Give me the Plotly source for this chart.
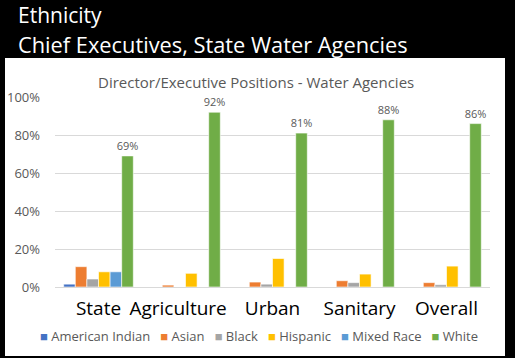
import plotly.graph_objects as go

categories = ["State", "Agriculture", "Urban", "Sanitary", "Overall"]
category_labels = ["State", "Agriculture\u00a0\u00a0\u00a0", "Urban", "Sanitary", "Overall"]
american_indian = [0.015, 0, 0, 0, 0]
asian = [0.107, 0.01, 0.026, 0.033, 0.023]
black = [0.042, 0, 0.015, 0.023, 0.012]
hispanic = [0.08, 0.072, 0.15, 0.068, 0.11]
mixed_race = [0.08, 0, 0, 0, 0]
white = [0.69, 0.92, 0.81, 0.88, 0.86]
white_labels = ["69%", "92%", "81%", "88%", "86%"]
y_ticks = [0, 0.2, 0.4, 0.6, 0.8, 1.0]
y_tick_labels = ["0%", "20%", "40%", "60%", "80%", "100%"]

series = [
    ("American Indian", american_indian, "#4472C4"),
    ("Asian", asian, "#ED7D31"),
    ("Black", black, "#A5A5A5"),
    ("Hispanic", hispanic, "#FFC000"),
    ("Mixed Race", mixed_race, "#5B9BD5"),
    ("White", white, "#70AD47"),
]

W, H = 515, 358
L, R, T, B = 55, 25, 97, 71
pw, ph = W - L - R, H - T - B

def px(x):
    return (x - L) / pw

def py(y):
    return (H - B - y) / ph

fig = go.Figure()
for name, vals, color in series:
    kw = {}
    if name == "White":
        kw = dict(text=white_labels, textposition="outside", constraintext="none",
                  textfont=dict(size=11, color="#595959", family="Open Sans"),
                  cliponaxis=False)
    fig.add_trace(go.Bar(name=name, x=categories, y=vals, marker_color=color,
                         marker_line=dict(color="white", width=0.6),
                         showlegend=False, **kw))

nb = "\u00a0"
legend_text = (nb * 3).join(
    f"<span style='color:{c}'>■</span>{nb}{n}" for n, _, c in series
)

fig.update_layout(
    width=W, height=H,
    margin=dict(l=L, r=R, t=T, b=B, pad=0),
    paper_bgcolor="black", plot_bgcolor="white",
    barmode="group", bargap=0.2, bargroupgap=0,
    font=dict(family="Open Sans", color="#595959"),
    showlegend=False,
    shapes=[dict(type="rect", xref="paper", yref="paper", layer="below",
                 x0=px(5), x1=px(505), y0=py(356), y1=py(58),
                 fillcolor="white", line=dict(width=0))],
    annotations=[
        dict(text="Ethnicity", xref="paper", yref="paper", x=px(16), y=py(15),
             xanchor="left", yanchor="middle", showarrow=False,
             font=dict(size=21, color="white", family="Open Sans")),
        dict(text="Chief Executives, State Water Agencies", xref="paper", yref="paper",
             x=px(16), y=py(44), xanchor="left", yanchor="middle", showarrow=False,
             font=dict(size=21.8, color="white", family="Open Sans")),
        dict(text="Director/Executive Positions - Water Agencies", xref="paper", yref="paper",
             x=px(256), y=py(82), xanchor="center", yanchor="middle", showarrow=False,
             font=dict(size=15, color="#595959", family="Open Sans")),
        dict(text=legend_text, xref="paper", yref="paper", x=px(259), y=py(336),
             xanchor="center", yanchor="middle", showarrow=False,
             font=dict(size=13, color="#595959", family="Open Sans")),
    ],
)
fig.update_yaxes(range=[0, 1.0], tickvals=y_ticks, ticktext=y_tick_labels,
                 showgrid=True, gridcolor="#D9D9D9", gridwidth=1, zeroline=False,
                 showline=False, tickfont=dict(size=13, color="#595959"),
                 ticklabelstandoff=14, automargin=False)
fig.update_xaxes(tickvals=categories, ticktext=category_labels,
                 showgrid=False, showline=True, linecolor="#D9D9D9", linewidth=1,
                 tickfont=dict(size=19, color="black"), ticklabelstandoff=4,
                 automargin=False)

fig.write_html("out.html", post_script="document.body.style.margin='0';",
               config={"displayModeBar": False})
